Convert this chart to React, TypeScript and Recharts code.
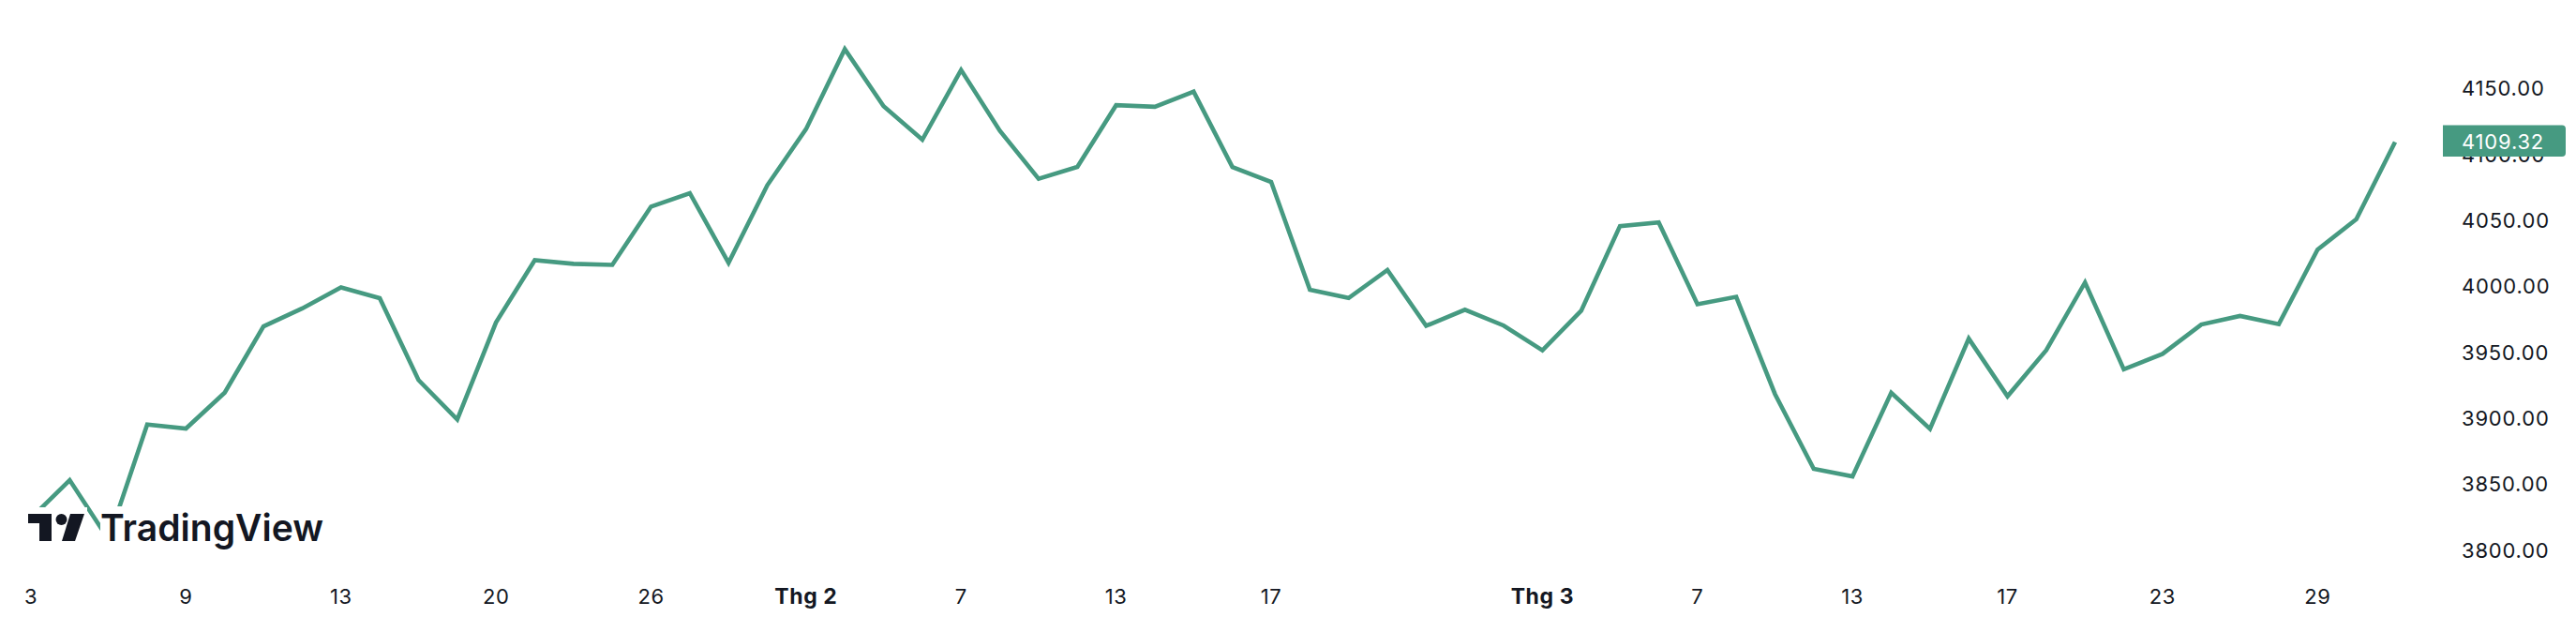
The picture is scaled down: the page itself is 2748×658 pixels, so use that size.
import React from "react";
import { LineChart, Line, XAxis, YAxis } from "recharts";

// S&P 500 daily closes, Q1 2023 (trading days only)
const dates = [
  "2023-01-03", "2023-01-04", "2023-01-05", "2023-01-06", "2023-01-09", "2023-01-10",
  "2023-01-11", "2023-01-12", "2023-01-13", "2023-01-17", "2023-01-18", "2023-01-19",
  "2023-01-20", "2023-01-23", "2023-01-24", "2023-01-25", "2023-01-26", "2023-01-27",
  "2023-01-30", "2023-01-31", "2023-02-01", "2023-02-02", "2023-02-03", "2023-02-06",
  "2023-02-07", "2023-02-08", "2023-02-09", "2023-02-10", "2023-02-13", "2023-02-14",
  "2023-02-15", "2023-02-16", "2023-02-17", "2023-02-21", "2023-02-22", "2023-02-23",
  "2023-02-24", "2023-02-27", "2023-02-28", "2023-03-01", "2023-03-02", "2023-03-03",
  "2023-03-06", "2023-03-07", "2023-03-08", "2023-03-09", "2023-03-10", "2023-03-13",
  "2023-03-14", "2023-03-15", "2023-03-16", "2023-03-17", "2023-03-20", "2023-03-21",
  "2023-03-22", "2023-03-23", "2023-03-24", "2023-03-27", "2023-03-28", "2023-03-29",
  "2023-03-30", "2023-03-31",
];

const closes = [
  3824.1, 3853.0, 3808.1, 3895.1, 3892.1, 3919.3,
  3969.6, 3983.2, 3999.1, 3991.0, 3928.9, 3898.9,
  3972.6, 4019.8, 4017.0, 4016.2, 4060.4, 4070.6,
  4017.8, 4076.6, 4119.2, 4179.8, 4136.5, 4111.1,
  4164.0, 4117.9, 4081.5, 4090.5, 4137.3, 4136.1,
  4147.6, 4090.4, 4079.1, 3997.3, 3991.1, 4012.3,
  3970.0, 3982.2, 3970.2, 3951.4, 3981.4, 4045.6,
  4048.4, 3986.4, 3992.0, 3918.3, 3861.6, 3855.8,
  3919.3, 3891.9, 3960.3, 3916.6, 3951.6, 4002.9,
  3937.0, 3948.7, 3971.0, 3977.5, 3971.3, 4027.8,
  4050.8, 4109.32,
];

const tickDates = [
  "2023-01-03", "2023-01-09", "2023-01-13", "2023-01-20", "2023-01-26",
  "2023-02-01", "2023-02-07", "2023-02-13", "2023-02-17", "2023-03-01",
  "2023-03-07", "2023-03-13", "2023-03-17", "2023-03-23", "2023-03-29",
];
const tickLabels = ["3", "9", "13", "20", "26", "Thg 2", "7", "13", "17", "Thg 3", "7", "13", "17", "23", "29"];

const priceTicks = [3800, 3850, 3900, 3950, 4000, 4050, 4100, 4150];

const GREEN = "#469a81";
const TEXT = "#131722";
const FONT = "Inter, Roboto, sans-serif";

const data = dates.map((date, i) => ({ i, date, close: closes[i] }));
const lastClose = closes[closes.length - 1];
const xTicks = tickDates.map((d) => dates.indexOf(d));

const XTick = (props: any) => {
  const { x, y, payload } = props;
  const idx = xTicks.indexOf(payload.value);
  const label = tickLabels[idx] ?? "";
  const bold = label.startsWith("Thg");
  return (
    <text
      x={x}
      y={y + 29.5}
      textAnchor="middle"
      fill={TEXT}
      fontFamily={FONT}
      fontSize={bold ? 23 : 22}
      fontWeight={bold ? 700 : 400}
      letterSpacing={0.6}
    >
      {label}
    </text>
  );
};

const YTick = (props: any) => {
  const { x, y, payload } = props;
  if (payload.value === lastClose) {
    const left = x + 51;
    const w = 131;
    const top = y - 18;
    const h = 33.5;
    const r = 4;
    return (
      <g>
        <path
          d={`M${left},${top} H${left + w - r} Q${left + w},${top} ${left + w},${top + r} V${top + h - r} Q${left + w},${top + h} ${left + w - r},${top + h} H${left} Z`}
          fill={GREEN}
        />
        <text x={x + 71} y={y + 7} fill="#ffffff" fontFamily={FONT} fontSize={22} letterSpacing={0.8}>
          {lastClose.toFixed(2)}
        </text>
      </g>
    );
  }
  return (
    <text x={x + 71} y={y + 8} fill={TEXT} fontFamily={FONT} fontSize={22} letterSpacing={0.8}>
      {payload.value.toFixed(2)}
    </text>
  );
};

// watermark: white patches behind the icon and the word hide the line there
const Logo = () => (
  <svg
    width={2748}
    height={658}
    style={{ position: "absolute", left: 0, top: 0, pointerEvents: "none" }}
  >
    <rect x={26} y={541} width={67} height={45} fill="#ffffff" />
    <rect x={107} y={540} width={242} height={50} fill="#ffffff" />
    <g fill="#131722">
      <path d="M30,548 H55 V577 H42 V558 H30 Z" />
      <circle cx={65.5} cy={554} r={6} />
      <path d="M75,548 H90 L80,577 H66 Z" />
      <text
        x={107}
        y={577}
        fontFamily={FONT}
        fontSize={40}
        fontWeight={600}
        textLength={238}
        lengthAdjust="spacingAndGlyphs"
      >
        TradingView
      </text>
    </g>
  </svg>
);

export default function App() {
  return (
    <div style={{ position: "absolute", left: 0, top: 0, width: 2748, height: 658, background: "#fff" }}>
      <LineChart width={2748} height={658} data={data} margin={{ top: 24, right: 0, bottom: 0, left: 33 }}>
        <XAxis
          type="number"
          dataKey="i"
          domain={[0, dates.length - 1]}
          ticks={xTicks}
          interval={0}
          axisLine={false}
          tickLine={false}
          tickSize={0}
          tickMargin={0}
          height={43.3}
          tick={<XTick />}
        />
        <YAxis
          orientation="right"
          domain={[3780, 4200]}
          ticks={[...priceTicks, lastClose]}
          interval={0}
          axisLine={false}
          tickLine={false}
          tickSize={0}
          tickMargin={0}
          width={193}
          tick={<YTick />}
          allowDataOverflow
        />
        <Line
          type="linear"
          dataKey="close"
          stroke={GREEN}
          strokeWidth={4.6}
          dot={false}
          activeDot={false}
          isAnimationActive={false}
        />
      </LineChart>
      <Logo />
    </div>
  );
}
